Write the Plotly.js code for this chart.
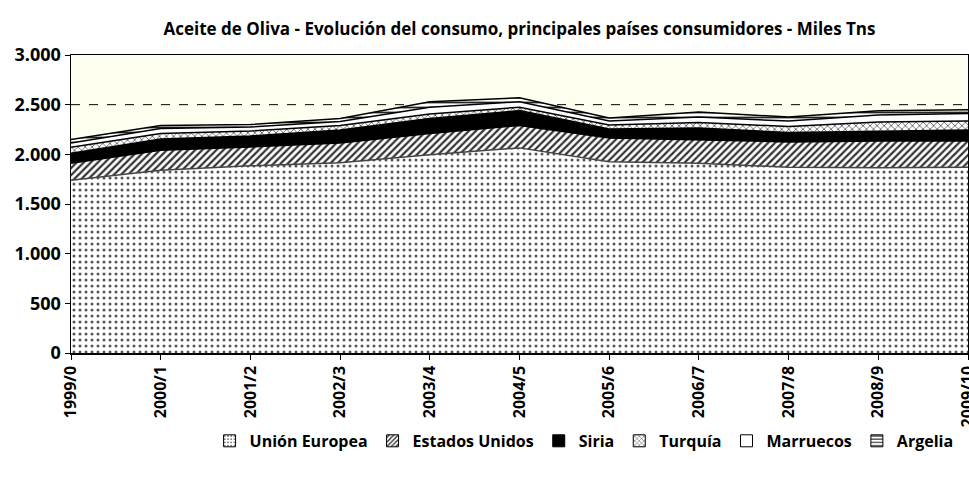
<!DOCTYPE html>
<html>
<head>
<meta charset="utf-8">
<script src="https://cdn.plot.ly/plotly-3.0.1.min.js"></script>
<style>html,body{margin:0;padding:0;background:#fff;}#chart{width:969px;height:481px;}</style>
</head>
<body>
<div id="chart"></div>
<script>
const campaigns = ["1999/0","2000/1","2001/2","2002/3","2003/4","2004/5","2005/6","2006/7","2007/8","2008/9","2009/10"];
const unionEuropea = [1740,1840,1885,1915,1995,2065,1925,1910,1870,1865,1870];
const estadosUnidos = [170,200,190,200,215,225,240,235,255,270,265];
const siria = [100,115,110,130,150,150,90,120,95,95,110];
const turquia = [60,55,50,45,45,35,40,55,60,95,90];
const marruecos = [45,50,40,40,70,55,40,55,55,70,75];
const argelia = [35,30,25,30,55,40,30,50,40,45,40];
const referenceLevel = 2500;

const FONT = '"Open Sans", Lato, sans-serif';

const styles = [
  {name: 'Unión Europea', y: unionEuropea, line: '#444', pattern: {shape: '.', fgcolor: '#555', bgcolor: 'white', size: 6, solidity: 0.2}},
  {name: 'Estados Unidos', y: estadosUnidos, line: '#000', pattern: {shape: '/', fgcolor: '#333', bgcolor: 'white', size: 5, solidity: 0.45}},
  {name: 'Siria', y: siria, line: '#000', color: '#000'},
  {name: 'Turquía', y: turquia, line: '#000', pattern: {shape: 'x', fgcolor: '#333', bgcolor: 'white', size: 5, solidity: 0.25}},
  {name: 'Marruecos', y: marruecos, line: '#000', color: '#fff'},
  {name: 'Argelia', y: argelia, line: '#000', pattern: {shape: '-', fgcolor: '#222', bgcolor: 'white', size: 5, solidity: 0.35}}
];

const data = [];
styles.forEach(s => {
  const t = {
    type: 'scatter', mode: 'lines', name: s.name, x: campaigns, y: s.y,
    stackgroup: 'one', line: {color: s.line, width: 1.5}, showlegend: false
  };
  if (s.pattern) { t.fillcolor = 'white'; t.fillpattern = s.pattern; }
  else { t.fillcolor = s.color; }
  data.push(t);
});
// legend entries drawn as boxes
styles.forEach(s => {
  const m = {line: {color: '#000', width: 1}};
  if (s.pattern) { m.color = 'white'; m.pattern = Object.assign({}, s.pattern, {size: 4}); }
  else { m.color = s.color; }
  data.push({type: 'bar', name: s.name, x: [campaigns[0]], y: [null], marker: m, showlegend: true, hoverinfo: 'skip'});
});

const layout = {
  width: 969, height: 481,
  margin: {l: 71, r: 1, t: 55, b: 128},
  paper_bgcolor: '#fff',
  plot_bgcolor: '#FFFFF0',
  separators: ',.',
  font: {family: FONT, color: '#000'},
  title: {
    text: 'Aceite de Oliva - Evolución del consumo, principales países consumidores - Miles Tns',
    font: {size: 17, family: FONT, color: '#000', weight: 'bold'},
    x: 0.5, xref: 'paper', xanchor: 'center', y: 0.94, yanchor: 'middle'
  },
  xaxis: {
    type: 'category', range: [0, 10],
    showgrid: false, zeroline: false,
    showline: true, linecolor: '#000', linewidth: 1.5, mirror: true,
    ticks: 'outside', ticklen: 5, tickcolor: '#000',
    tickangle: -90,
    tickfont: {size: 16, family: FONT, color: '#000', weight: 'bold'}
  },
  yaxis: {
    range: [0, 3000], dtick: 500, tickformat: ',d',
    showgrid: false, zeroline: false,
    showline: true, linecolor: '#000', linewidth: 1.5, mirror: true,
    ticks: 'outside', ticklen: 5, tickcolor: '#000',
    tickfont: {size: 18, family: FONT, color: '#000', weight: 'bold'}
  },
  shapes: [{
    type: 'line', xref: 'paper', x0: 0, x1: 1, yref: 'y', y0: referenceLevel, y1: referenceLevel,
    line: {color: '#000', width: 1, dash: 'dash'}, layer: 'below'
  }],
  showlegend: true,
  legend: {
    orientation: 'h', x: 0.572, xanchor: 'center', y: -0.295, yanchor: 'middle',
    traceorder: 'normal', itemwidth: 30, tracegroupgap: 0,
    font: {size: 16, family: FONT, color: '#000', weight: 'bold'}
  }
};

Plotly.newPlot('chart', data, layout, {displayModeBar: false, staticPlot: true});
</script>
</body>
</html>
